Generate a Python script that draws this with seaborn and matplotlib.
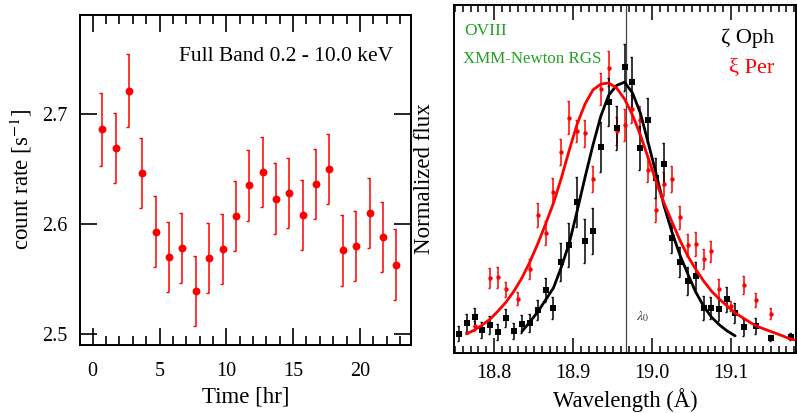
import matplotlib
matplotlib.use('Agg')
import matplotlib.pyplot as plt
from matplotlib.ticker import MultipleLocator
import seaborn as sns

# ---- light curve (left panel)
time_hr = [0.72, 1.72, 2.72, 3.72, 4.72, 5.72, 6.72, 7.72, 8.72, 9.72, 10.72, 11.72,
           12.72, 13.72, 14.72, 15.72, 16.72, 17.72, 18.72, 19.72, 20.72, 21.72, 22.72]
count_rate = [2.686, 2.669, 2.721, 2.646, 2.593, 2.570, 2.578, 2.539, 2.569, 2.577, 2.607, 2.635,
              2.647, 2.623, 2.628, 2.608, 2.636, 2.650, 2.576, 2.580, 2.610, 2.588, 2.563]
rate_err = [0.033, 0.032, 0.033, 0.032, 0.032, 0.032, 0.032, 0.032, 0.032, 0.032, 0.032, 0.032,
            0.032, 0.032, 0.032, 0.032, 0.032, 0.032, 0.032, 0.032, 0.032, 0.032, 0.032]

# ---- OVIII line profiles (right panel)
wl_oph = [18.755, 18.765, 18.775, 18.785, 18.795, 18.805, 18.815, 18.825, 18.835, 18.845,
          18.855, 18.865, 18.875, 18.885, 18.895, 18.905, 18.915, 18.925, 18.935, 18.945,
          18.955, 18.965, 18.975, 18.985, 18.995, 19.005, 19.015, 19.025, 19.035, 19.045,
          19.055, 19.065, 19.075, 19.085, 19.095, 19.105, 19.116, 19.131, 19.151, 19.176]
flux_oph = [0.072, 0.112, 0.134, 0.087, 0.106, 0.078, 0.131, 0.083, 0.108, 0.112,
            0.161, 0.236, 0.169, 0.340, 0.404, 0.563, 0.419, 0.455, 0.768, 0.937,
            0.839, 1.066, 1.011, 0.764, 0.870, 0.653, 0.706, 0.429, 0.339, 0.271,
            0.288, 0.168, 0.168, 0.164, 0.201, 0.149, 0.097, 0.102, 0.056, 0.062]
err_oph = [0.028, 0.034, 0.034, 0.030, 0.034, 0.030, 0.034, 0.030, 0.034, 0.034,
           0.037, 0.045, 0.041, 0.071, 0.082, 0.093, 0.082, 0.086, 0.093, 0.089,
           0.082, 0.089, 0.093, 0.082, 0.082, 0.075, 0.078, 0.056, 0.056, 0.052,
           0.052, 0.045, 0.041, 0.045, 0.047, 0.037, 0.031, 0.031, 0.012, 0.012]

wl_per = [18.775, 18.795, 18.805, 18.815, 18.830, 18.845, 18.855, 18.865, 18.875, 18.885,
          18.895, 18.905, 18.915, 18.925, 18.935, 18.945, 18.955, 18.965, 18.975, 18.985,
          18.995, 19.005, 19.015, 19.025, 19.035, 19.045, 19.055, 19.065, 19.075, 19.085,
          19.100, 19.116, 19.131, 19.151]
flux_per = [0.103, 0.280, 0.283, 0.239, 0.204, 0.314, 0.516, 0.450, 0.603, 0.750,
            0.879, 0.830, 0.820, 0.650, 0.984, 1.063, 0.830, 0.851, 0.910, 0.870,
            0.684, 0.534, 0.631, 0.650, 0.507, 0.403, 0.408, 0.353, 0.381, 0.239,
            0.176, 0.255, 0.199, 0.148]
err_per = [0.019, 0.037, 0.038, 0.028, 0.023, 0.037, 0.044, 0.045, 0.050, 0.048,
           0.060, 0.041, 0.051, 0.050, 0.060, 0.065, 0.052, 0.060, 0.052, 0.052,
           0.047, 0.044, 0.044, 0.050, 0.044, 0.042, 0.045, 0.037, 0.039, 0.037,
           0.019, 0.034, 0.025, 0.021]

# fitted models, read at the bin centres
model_wl_oph = [18.835, 18.845, 18.855, 18.865, 18.875, 18.885, 18.895, 18.905, 18.915, 18.925,
                18.935, 18.945, 18.955, 18.965, 18.975, 18.985, 18.995, 19.005, 19.015, 19.025,
                19.035, 19.045, 19.055, 19.065, 19.075, 19.085, 19.095, 19.105]
model_oph = [0.081, 0.117, 0.154, 0.199, 0.244, 0.322, 0.411, 0.531, 0.657, 0.777,
             0.885, 0.963, 0.999, 1.011, 0.971, 0.896, 0.784, 0.669, 0.549, 0.452,
             0.367, 0.296, 0.229, 0.176, 0.135, 0.106, 0.083, 0.065]
model_wl_per = [18.765, 18.775, 18.785, 18.795, 18.805, 18.815, 18.825, 18.835, 18.845, 18.855,
                18.865, 18.875, 18.885, 18.895, 18.905, 18.915, 18.925, 18.935, 18.945, 18.955,
                18.965, 18.975, 18.985, 18.995, 19.005, 19.015, 19.025, 19.035, 19.045, 19.055,
                19.065, 19.075, 19.085, 19.095, 19.105, 19.115, 19.125, 19.135, 19.145, 19.155,
                19.165, 19.175, 19.180]
model_per = [0.072, 0.087, 0.106, 0.128, 0.158, 0.191, 0.232, 0.281, 0.340, 0.408,
             0.482, 0.560, 0.654, 0.758, 0.855, 0.930, 0.982, 1.004, 1.008, 0.989,
             0.948, 0.889, 0.814, 0.728, 0.639, 0.560, 0.490, 0.422, 0.363, 0.314,
             0.270, 0.232, 0.202, 0.176, 0.150, 0.132, 0.113, 0.098, 0.087, 0.076,
             0.065, 0.053, 0.050]
lambda0 = 18.967

sns.set_theme(style='ticks')
plt.rcParams['font.family'] = ['Liberation Serif', 'DejaVu Serif']
plt.rcParams['mathtext.fontset'] = 'stix'
plt.rcParams['axes.linewidth'] = 1.4
plt.rcParams['axes.edgecolor'] = 'black'
plt.rcParams['xtick.color'] = 'black'
plt.rcParams['ytick.color'] = 'black'
plt.rcParams['text.color'] = 'black'
plt.rcParams['axes.labelcolor'] = 'black'

GREEN = '#22a022'


def err_points(ax, x, y, e, color, marker, ms, capw):
    # error bars with a one-sided cap ("[" shape)
    ax.errorbar(x, y, yerr=e, fmt='none', ecolor=color, elinewidth=1.1, zorder=2)
    lo = [a - b for a, b in zip(y, e)]
    hi = [a + b for a, b in zip(y, e)]
    ax.plot(x, lo, ls='none', marker=0, ms=capw, mew=1.0, color=color, zorder=2)
    ax.plot(x, hi, ls='none', marker=0, ms=capw, mew=1.0, color=color, zorder=2)
    sns.scatterplot(x=x, y=y, ax=ax, color=color, marker=marker, s=ms, linewidth=0, zorder=3)


fig = plt.figure(figsize=(7.97, 4.13), dpi=100)

# ---------------- left: light curve
ax1 = fig.add_axes([0.1004, 0.1646, 0.4149, 0.7998])
err_points(ax1, time_hr, count_rate, rate_err, 'red', 'o', 32, 2.2)
ax1.set_xlim(-0.95, 23.8)
ax1.set_ylim(2.49, 2.79)
ax1.xaxis.set_major_locator(MultipleLocator(5))
ax1.xaxis.set_minor_locator(MultipleLocator(1))
ax1.set_yticks([2.5, 2.6, 2.7])
ax1.tick_params(which='both', direction='in', top=True, right=True, width=1.2, labelsize=14.5)
ax1.tick_params(which='major', length=12)
ax1.tick_params(which='minor', length=6.3)
ax1.tick_params(axis='x', pad=12)
ax1.tick_params(axis='y', pad=9)
ax1.set_xlabel('Time [hr]', fontsize=16.5, labelpad=4)
ax1.set_ylabel('count rate [s$^{-1}$]', fontsize=16.5, labelpad=6)
ax1.text(22.49, 2.7475, 'Full Band 0.2 - 10.0 keV', fontsize=15.5, ha='right', va='baseline')

# ---------------- right: OVIII line
ax2 = fig.add_axes([0.5696, 0.1446, 0.4291, 0.8441])
ax2.axvline(lambda0, color='#444444', lw=0.9, zorder=1)
err_points(ax2, wl_per, flux_per, err_per, 'red', 'o', 10, 1.8)
err_points(ax2, wl_oph, flux_oph, err_oph, 'black', 's', 14, 1.8)
sns.lineplot(x=model_wl_oph, y=model_oph, ax=ax2, color='black', lw=2.0,
             sort=False, estimator=None, zorder=4)
sns.lineplot(x=model_wl_per, y=model_per, ax=ax2, color='red', lw=2.0,
             sort=False, estimator=None, zorder=4)
ax2.set_xlim(18.749, 19.182)
ax2.set_ylim(0, 1.3)
ax2.xaxis.set_major_locator(MultipleLocator(0.1))
ax2.xaxis.set_minor_locator(MultipleLocator(0.01))
ax2.set_yticks([])
ax2.tick_params(which='both', direction='in', top=True, width=1.1, labelsize=14.5)
ax2.tick_params(which='major', length=10.5)
ax2.tick_params(which='minor', length=5)
ax2.tick_params(axis='x', pad=8)
ax2.set_xlabel('Wavelength (Å)', fontsize=16.3, labelpad=3)
ax2.set_ylabel('Normalized flux', fontsize=16.5, labelpad=14)

ax2.text(18.762, 1.187, 'OVIII', color=GREEN, fontsize=12.5, ha='left', va='baseline')
ax2.text(18.760, 1.081, 'XMM-Newton RGS', color=GREEN, fontsize=12.2, ha='left', va='baseline')
ax2.text(19.1547, 1.156, 'ζ Oph', color='black', fontsize=16, ha='right', va='baseline')
ax2.text(19.1547, 1.050, 'ξ Per', color='red', fontsize=16, ha='right', va='baseline')
ax2.text(18.980, 0.135, r'$\lambda_0$', color='#333333', fontsize=10, ha='left', va='center')

fig.savefig('out.png', dpi=100)
